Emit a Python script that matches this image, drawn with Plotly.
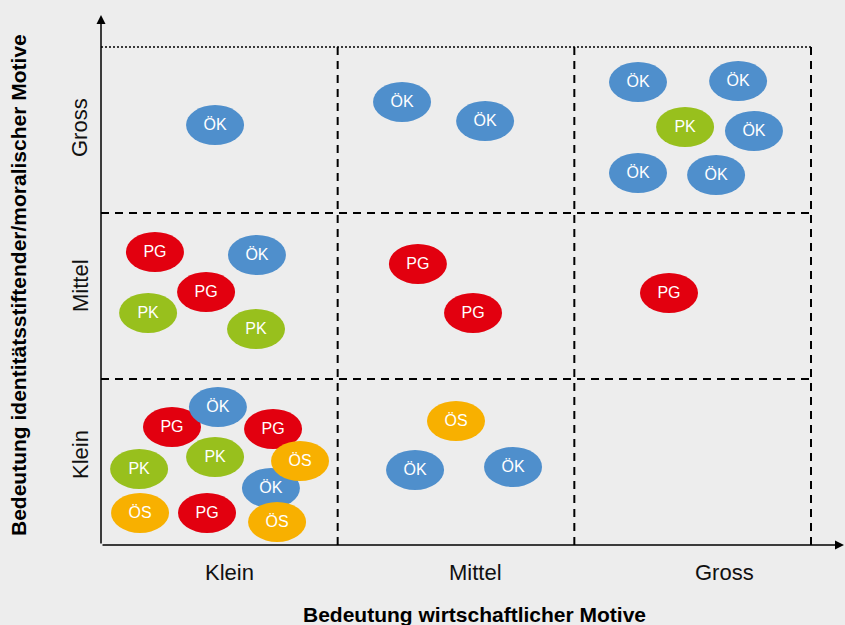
import plotly.graph_objects as go

# ---------------- data ----------------
x_categories = ["Klein", "Mittel", "Gross"]
y_categories = ["Klein", "Mittel", "Gross"]
x_title = "Bedeutung wirtschaftlicher Motive"
y_title = "Bedeutung identitätsstiftender/moralischer Motive"

# bubble labels and their positions on the (0..3, 0..3) importance grid
bubble_labels = [
    "ÖK",
    "ÖK", "ÖK",
    "ÖK", "ÖK", "PK", "ÖK", "ÖK", "ÖK",
    "PG", "ÖK", "PG", "PK", "PK",
    "PG", "PG",
    "PG",
    "PG", "ÖK", "PG", "PK", "PK", "ÖS", "ÖK", "ÖS", "PG", "ÖS",
    "ÖS", "ÖK", "ÖK",
]
bubble_x = [
    0.482,
    1.272, 1.623,
    2.269, 2.692, 2.468, 2.759, 2.269, 2.599,
    0.228, 0.659, 0.444, 0.199, 0.655,
    1.339, 1.572,
    2.400,
    0.300, 0.494, 0.727, 0.482, 0.161, 0.841, 0.718, 0.165, 0.448, 0.744,
    1.500, 1.327, 1.741,
]
bubble_y = [
    2.530,
    2.669, 2.554,
    2.789, 2.795, 2.518, 2.494, 2.241, 2.229,
    1.765, 1.747, 1.524, 1.398, 1.301,
    1.693, 1.398,
    1.518,
    0.711, 0.831, 0.699, 0.530, 0.458, 0.506, 0.343, 0.193, 0.193, 0.139,
    0.747, 0.452, 0.470,
]

# ---------------- styles ----------------
colors = {"ÖK": "#4f8fcc", "PG": "#e2000f", "PK": "#98c01d", "ÖS": "#f8b000"}
draw_order = ["PG", "PK", "ÖK", "ÖS"]
bg = "#ededed"

W, H = 845, 625
L, R, T, B = 101, 0, 15, 80
PW, PH = W - L - R, H - T - B
PX_X = 710 / 3.0    # pixels per x unit
PX_Y = 498 / 3.0    # pixels per y unit
x_max = PW / PX_X
y_max = PH / PX_Y

def px_paper(px):
    return (px - L) / PW

def py_paper(py):
    return (H - B - py) / PH

ell_w = 58 / PX_X
ell_h = 40 / PX_Y

shapes = []
dash = "8px,6px"
for xv in [1, 2, 3]:
    shapes.append(dict(type="line", xref="x", yref="y", x0=xv, x1=xv, y0=0, y1=3,
                       line=dict(color="black", width=2, dash=dash), layer="below"))
for yv in [1, 2]:
    shapes.append(dict(type="line", xref="x", yref="y", x0=0, x1=3, y0=yv, y1=yv,
                       line=dict(color="black", width=2, dash=dash), layer="below"))
shapes.append(dict(type="line", xref="x", yref="y", x0=0, x1=3, y0=3, y1=3,
                   line=dict(color="black", width=1.3, dash="2px,2px"), layer="below"))

for grp in draw_order:
    for lab, xv, yv in zip(bubble_labels, bubble_x, bubble_y):
        if lab != grp:
            continue
        shapes.append(dict(type="circle", xref="x", yref="y",
                           x0=xv - ell_w / 2, x1=xv + ell_w / 2,
                           y0=yv - ell_h / 2, y1=yv + ell_h / 2,
                           fillcolor=colors[lab], line=dict(width=0), layer="below"))

fig = go.Figure()
fig.add_trace(go.Scatter(
    x=bubble_x, y=[v - 0.008 for v in bubble_y], text=bubble_labels, mode="text",
    textfont=dict(color="white", size=16, family="Liberation Sans, Arial, sans-serif"),
    hoverinfo="skip", showlegend=False, cliponaxis=False,
))

annotations = []
# axis arrows (paper-referenced)
annotations.append(dict(x=1.0, y=0, ax=-PW, ay=0, xref="paper", yref="paper",
                        showarrow=True, arrowhead=2, arrowsize=1.2, arrowwidth=1.5,
                        arrowcolor="black", text="", standoff=0))
annotations.append(dict(x=0, y=1.0, ax=0, ay=PH, xref="paper", yref="paper",
                        showarrow=True, arrowhead=2, arrowsize=1.2, arrowwidth=1.5,
                        arrowcolor="black", text="", standoff=0))

tick_font = dict(size=22, color="#111111", family="Liberation Sans, Arial, sans-serif")
x_tick_px = [229.5, 475, 724]
for lab, px in zip(x_categories, x_tick_px):
    annotations.append(dict(x=px_paper(px), y=py_paper(572), xref="paper", yref="paper",
                            text=lab, showarrow=False, font=tick_font,
                            xanchor="center", yanchor="middle"))
y_tick_py = [455, 286, 128]
for lab, py in zip(y_categories, y_tick_py):
    annotations.append(dict(x=px_paper(80), y=py_paper(py), xref="paper", yref="paper",
                            text=lab, textangle=-90, showarrow=False, font=tick_font,
                            xanchor="center", yanchor="middle"))

title_font = dict(size=21, color="black", family="Liberation Sans, Arial, sans-serif")
annotations.append(dict(x=px_paper(474), y=py_paper(614), xref="paper", yref="paper",
                        text="<b>" + x_title + "</b>", showarrow=False, font=title_font,
                        xanchor="center", yanchor="middle"))
annotations.append(dict(x=px_paper(18), y=py_paper(285), xref="paper", yref="paper",
                        text="<b>" + y_title + "</b>", textangle=-90, showarrow=False,
                        font=title_font, xanchor="center", yanchor="middle"))

fig.update_layout(
    width=W, height=H,
    margin=dict(l=L, r=R, t=T, b=B, pad=0),
    paper_bgcolor=bg, plot_bgcolor=bg,
    shapes=shapes, annotations=annotations,
    xaxis=dict(range=[0, x_max], visible=False, fixedrange=True),
    yaxis=dict(range=[0, y_max], visible=False, fixedrange=True),
    showlegend=False,
)

fig.write_html("out.html", config={"displayModeBar": False},
               post_script="document.body.style.margin='0';document.body.style.overflow='hidden';"
                           "document.body.style.background='" + bg + "';")
